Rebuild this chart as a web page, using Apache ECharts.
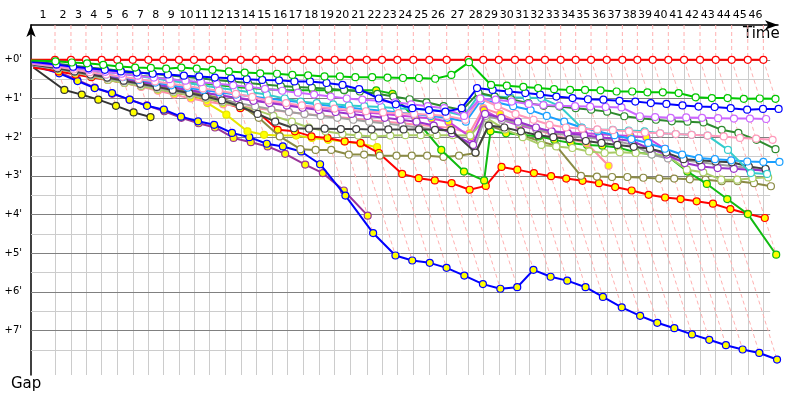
<!DOCTYPE html>
<html><head><meta charset="utf-8">
<script src="https://cdn.jsdelivr.net/npm/echarts@6/dist/echarts.min.js"></script>
<style>html,body{margin:0;padding:0;background:#fff}#c{width:800px;height:400px}</style>
</head><body><div id="c"></div>
<script>
// Leader's elapsed time (minutes) at the end of each lap (index = lap, 0 = start)
const lapEnd = [0,2.00,3.33,4.58,5.89,7.19,8.48,9.78,11.03,12.33,13.58,14.86,16.19,17.48,18.75,20.14,21.39,22.69,24.03,25.31,26.58,27.98,29.25,30.53,31.86,33.19,34.64,36.44,37.69,38.98,40.33,41.53,42.83,44.14,45.39,46.67,47.98,49.28,50.53,51.81,53.11,54.42,55.75,57.06,58.39,59.73,61.03];
const lapLabels = ['1','2','3','4','5','6','7','8','9','10','11','12','13','14','15','16','17','18','19','20','21','22','23','24','25','26','27','28','29','30','31','32','33','34','35','36','37','38','39','40','41','42','43','44','45','46'];
const gapTicks = [0,1,2,3,4,5,6,7];
const gapMinor = [0.5,1.5,2.5,3.5,4.5,5.5,6.5,7.5];

// Gap to leader (minutes) at the end of each lap, from lap 0
const gapRed = [0,0,0,0,0,0,0,0,0,0,0,0,0,0,0,0,0,0,0,0,0,0,0,0,0,0,0,0,0,0,0,0,0,0,0,0,0,0,0,0,0,0,0,0,0,0,0];
const gapGreen = [0.02,0.04,0.07,0.09,0.13,0.17,0.20,0.21,0.23,0.20,0.23,0.26,0.30,0.33,0.35,0.36,0.39,0.40,0.43,0.43,0.45,0.45,0.46,0.47,0.47,0.49,0.39,0.06,0.65,0.67,0.70,0.73,0.76,0.78,0.78,0.79,0.82,0.82,0.84,0.84,0.86,0.97,0.99,0.99,1.01,1.00,1.01];
const gapBlue = [0.05,0.12,0.18,0.22,0.26,0.30,0.33,0.36,0.38,0.41,0.43,0.46,0.48,0.50,0.52,0.53,0.56,0.56,0.60,0.65,0.76,1.00,1.15,1.25,1.30,1.34,1.25,0.73,0.78,0.82,0.86,0.90,0.95,0.99,1.02,1.03,1.06,1.08,1.12,1.14,1.18,1.21,1.22,1.25,1.29,1.27,1.27];
const gapViolet = [0.08,0.14,0.20,0.26,0.31,0.36,0.41,0.46,0.50,0.54,0.58,0.62,0.66,0.70,0.75,0.80,0.85,0.90,0.95,1.00,1.03,1.06,1.10,1.15,1.20,1.25,1.45,1.00,1.03,1.08,1.14,1.17,1.19,1.20,1.21,1.22,1.23,1.46,1.48,1.50,1.49,1.50,1.51,1.52,1.52,1.53];
const gapPink = [0.10,0.18,0.25,0.32,0.38,0.44,0.50,0.56,0.62,0.68,0.74,0.80,0.88,0.96,1.05,1.12,1.18,1.22,1.26,1.30,1.33,1.36,1.38,1.40,1.42,1.45,1.55,1.00,1.20,1.40,1.55,1.68,1.75,1.78,1.80,1.82,1.85,1.88,1.90,1.92,1.94,1.96,1.98,2.02,2.04,2.07];
const gapDarkGreen = [0.05,0.10,0.15,0.20,0.24,0.28,0.32,0.36,0.40,0.44,0.48,0.52,0.56,0.60,0.64,0.68,0.70,0.72,0.75,0.78,0.82,0.88,0.95,1.02,1.10,1.20,1.30,0.85,0.95,1.02,1.12,1.19,1.21,1.25,1.29,1.34,1.46,1.51,1.55,1.59,1.60,1.62,1.81,1.89,2.07,2.31];
const gapCyan = [0.06,0.12,0.18,0.24,0.30,0.36,0.42,0.48,0.54,0.60,0.66,0.72,0.78,0.84,0.90,1.00,1.08,1.12,1.15,1.18,1.20,1.22,1.25,1.27,1.29,1.33,1.45,0.90,0.95,0.97,0.98,0.99,1.19,1.76,1.81,1.81,1.83,1.85,1.90,1.92,1.94,1.96,2.33,2.93,2.95];
const gapAzure = [0.10,0.17,0.24,0.31,0.38,0.45,0.52,0.59,0.66,0.72,0.78,0.84,0.90,0.95,1.00,1.05,1.10,1.15,1.20,1.24,1.28,1.32,1.36,1.40,1.45,1.50,1.60,1.05,1.10,1.20,1.30,1.45,1.60,1.75,1.85,1.95,2.05,2.15,2.30,2.45,2.54,2.57,2.60,2.63,2.64,2.64];
const gapDarkGray = [0.12,0.22,0.30,0.38,0.46,0.54,0.62,0.70,0.78,0.86,0.95,1.05,1.20,1.40,1.60,1.77,1.78,1.78,1.79,1.79,1.80,1.80,1.80,1.80,1.81,1.82,2.40,1.70,1.75,1.85,1.95,2.00,2.05,2.10,2.15,2.20,2.25,2.30,2.40,2.57,2.60,2.63,2.65,2.76,2.82];
const gapPurple = [0.10,0.18,0.26,0.34,0.42,0.50,0.57,0.64,0.71,0.78,0.85,0.92,0.99,1.06,1.12,1.18,1.24,1.30,1.35,1.40,1.45,1.50,1.55,1.60,1.70,1.90,2.20,1.40,1.50,1.60,1.75,1.85,1.90,1.95,2.00,2.05,2.10,2.30,2.45,2.67,2.76,2.80,2.82,2.84,2.86];
const gapGray = [0.15,0.24,0.32,0.40,0.48,0.56,0.64,0.72,0.80,0.88,0.96,1.04,1.12,1.20,1.28,1.35,1.40,1.45,1.50,1.55,1.60,1.65,1.70,1.75,1.80,1.85,2.30,1.45,1.55,1.65,1.80,1.90,1.95,2.00,2.05,2.10,2.20,2.45,2.55,2.60,2.65,2.70,2.75,2.80,2.89];
const gapLightGreen = [0.12,0.22,0.32,0.42,0.52,0.60,0.68,0.76,0.84,0.92,1.00,1.10,1.20,1.30,1.45,1.60,1.75,1.85,1.92,1.96,1.98,1.96,1.95,1.95,1.95,1.95,1.96,1.50,1.80,2.00,2.20,2.24,2.28,2.37,2.41,2.39,2.41,2.43,2.48,2.84,2.91,3.10,3.10,3.06,3.04];
const gapOlive = [0.10,0.20,0.30,0.38,0.45,0.52,0.60,0.68,0.75,0.82,0.90,1.00,1.15,1.50,1.98,2.31,2.33,2.33,2.45,2.45,2.48,2.48,2.48,2.48,2.51,2.48,2.41,1.70,1.85,1.95,2.11,2.22,3.00,3.02,3.03,3.03,3.05,3.07,3.07,3.09,3.10,3.14,3.14,3.19,3.27];
const gapMagenta = [0.10,0.20,0.28,0.36,0.43,0.50,0.57,0.64,0.71,0.78,0.85,0.92,0.98,1.04,1.10,1.15,1.20,1.24,1.28,1.32,1.36,1.40,1.44,1.48,1.52,1.60,2.00,1.30,1.55,1.70,1.80,1.85,1.88,1.90,1.92,1.95,1.97,2.00,2.30];
const gapSalmon = [0.10,0.20,0.30,0.40,0.50,0.60,0.70,0.80,0.90,1.00,1.08,1.15,1.20,1.25,1.30,1.35,1.40,1.44,1.48,1.52,1.56,1.60,1.64,1.68,1.72,1.76,1.90,1.25,1.40,1.60,1.80,1.95,2.05,2.15,2.74];
const gapGreenY = [0.10,0.15,0.20,0.25,0.30,0.35,0.40,0.45,0.50,0.55,0.60,0.65,0.70,0.73,0.76,0.78,0.79,0.79,0.79,0.79,0.79,0.79,0.88,1.55,2.33,2.89,3.12,1.85,1.90,1.94,1.98,2.07,2.15,2.20,2.22,2.27,2.39,2.44,2.48,2.89,3.21,3.60,3.99,5.04];
const gapRedY = [0.20,0.30,0.38,0.45,0.52,0.60,0.68,0.76,0.84,0.92,1.00,1.10,1.25,1.33,1.81,1.85,1.98,2.02,2.11,2.15,2.41,2.95,3.06,3.12,3.19,3.36,3.26,2.77,2.84,2.93,3.01,3.07,3.13,3.19,3.29,3.38,3.49,3.56,3.60,3.66,3.72,3.86,3.98,4.09];
const gapBlueY = [0.15,0.35,0.55,0.73,0.86,1.03,1.19,1.29,1.47,1.59,1.68,1.89,2.00,2.17,2.24,2.37,2.70,3.51,4.48,5.06,5.19,5.25,5.38,5.58,5.80,5.92,5.88,5.43,5.61,5.71,5.88,6.13,6.40,6.62,6.80,6.94,7.10,7.24,7.38,7.49,7.58,7.75];
const gapPurpleY = [0.15,0.32,0.52,0.72,0.88,1.03,1.18,1.33,1.50,1.64,1.75,2.02,2.13,2.24,2.43,2.71,2.93,3.38,4.03];
const gapBlackY = [0.20,0.78,0.90,1.03,1.19,1.36,1.48];
const gapYellow = [0.12,0.25,0.33,0.40,0.48,0.55,0.63,0.70,0.80,0.90,1.12,1.42,1.85,1.94,1.96,1.96,2.02,2.07,2.11,2.17,2.26];

const W = '#ffffff', Y = '#ffff00';
const drivers = [
  {gaps: gapBlackY, color: '#333333', fill: Y},
  {gaps: gapPurpleY, color: '#993399', fill: Y},
  {gaps: gapBlueY, color: '#0000ff', fill: Y},
  {gaps: gapYellow, color: '#e6e600', fill: Y},
  {gaps: gapRedY, color: '#ff0000', fill: Y},
  {gaps: gapOlive, color: '#8b8b45', fill: W},
  {gaps: gapGreenY, color: '#11bb11', fill: Y},
  {gaps: gapSalmon, color: '#ff8fa8', fill: Y},
  {gaps: gapMagenta, color: '#cc44dd', fill: Y},
  {gaps: gapLightGreen, color: '#aacc66', fill: W},
  {gaps: gapGray, color: '#a0a0a0', fill: W},
  {gaps: gapPurple, color: '#9933cc', fill: W},
  {gaps: gapDarkGray, color: '#404040', fill: W},
  {gaps: gapAzure, color: '#1a9fff', fill: W},
  {gaps: gapCyan, color: '#33cccc', fill: W},
  {gaps: gapDarkGreen, color: '#2e8b2e', fill: W},
  {gaps: gapPink, color: '#ff99bb', fill: W},
  {gaps: gapViolet, color: '#cc66ff', fill: W},
  {gaps: gapBlue, color: '#0000ff', fill: W},
  {gaps: gapRed, color: '#ff0000', fill: W},
  {gaps: gapGreen, color: '#00c800', fill: W}
];

const Y_MIN = -0.9, Y_MAX = 8.15, X_MAX = 62.25, GRID_X_END = 61.6;

// a driver's point for lap k sits at his own elapsed time: leader time + gap; no marker at the start
const toPoints = gaps => gaps.map((g, lap) => lap === 0
  ? {value: [lapEnd[lap] + g, g], symbol: 'none'}
  : [lapEnd[lap] + g, g]);

const mids = lapLabels.map((_, i) => (lapEnd[i] + lapEnd[i + 1]) / 2);
const midLabel = {};
mids.forEach((m, i) => { midLabel[m.toFixed(4)] = lapLabels[i]; });

// lap lines: from top axis down to leader, then through all cars on that lap
const lapLines = [];
for (let k = 1; k < lapEnd.length; k++) {
  let gmax = 0;
  drivers.forEach(d => { if (d.gaps.length > k && d.gaps[k] > gmax) gmax = d.gaps[k]; });
  lapLines.push({coords: [[lapEnd[k], Y_MIN], [lapEnd[k], 0], [lapEnd[k] + gmax, gmax]]});
}
const vGrid = lapEnd.slice(1).map(t => ({coords: [[t, 0], [t, Y_MAX]]}));
const hMinor = gapMinor.map(v => ({coords: [[0, v], [GRID_X_END, v]]}));
const hMajor = gapTicks.map(v => ({coords: [[0, v], [GRID_X_END, v]]}));

const FONT = 'DejaVu Sans';
const series = [
  {type: 'lines', coordinateSystem: 'cartesian2d', data: vGrid, silent: true, z: 1,
   lineStyle: {color: '#cccccc', width: 1, opacity: 1}},
  {type: 'lines', coordinateSystem: 'cartesian2d', data: hMinor, silent: true, z: 1,
   lineStyle: {color: '#cccccc', width: 1, opacity: 1}},
  {type: 'lines', coordinateSystem: 'cartesian2d', data: hMajor, silent: true, z: 1,
   lineStyle: {color: '#808080', width: 1, opacity: 1}},
  {type: 'lines', coordinateSystem: 'cartesian2d', polyline: true, data: lapLines, silent: true, z: 2,
   lineStyle: {color: '#ffb0b0', width: 1, type: [4, 3], opacity: 1}}
];
drivers.forEach((d, i) => {
  series.push({
    type: 'line', data: toPoints(d.gaps), clip: false, silent: true, z: 3 + i,
    symbol: 'circle', symbolSize: 7, showAllSymbol: true,
    lineStyle: {color: d.color, width: 2},
    itemStyle: {color: d.fill, borderColor: d.color, borderWidth: 1.2}
  });
});

const chart = echarts.init(document.getElementById('c'), null, {renderer: 'canvas'});
chart.setOption({
  animation: false,
  backgroundColor: '#ffffff',
  grid: {left: 31, top: 25, width: 747, height: 350, containLabel: false},
  xAxis: {
    type: 'value', position: 'top', min: 0, max: X_MAX,
    axisLine: {show: true, onZero: false, lineStyle: {color: '#000', width: 1.5}, symbol: ['none', 'arrow'], symbolSize: [7, 13]},
    axisTick: {show: false}, splitLine: {show: false},
    axisLabel: {customValues: mids, color: '#000', fontSize: 11, fontFamily: FONT, margin: 4,
      formatter: v => midLabel[Number(v).toFixed(4)] || ''}
  },
  yAxis: {
    type: 'value', inverse: true, min: Y_MIN, max: Y_MAX,
    axisLine: {show: true, onZero: false, lineStyle: {color: '#000', width: 1.5}, symbol: ['none', 'arrow'], symbolSize: [7, 12]},
    axisTick: {show: false}, splitLine: {show: false},
    axisLabel: {customValues: gapTicks, color: '#000', fontSize: 10, fontFamily: FONT, margin: 9,
      formatter: v => '+' + v + "'"}
  },
  graphic: [
    {type: 'text', left: 743, top: 27, style: {text: 'Time', font: '15px "DejaVu Sans"', fill: '#000'}},
    {type: 'text', left: 11, top: 377, style: {text: 'Gap', font: '15px "DejaVu Sans"', fill: '#000'}}
  ],
  series: series
});
</script></body></html>
